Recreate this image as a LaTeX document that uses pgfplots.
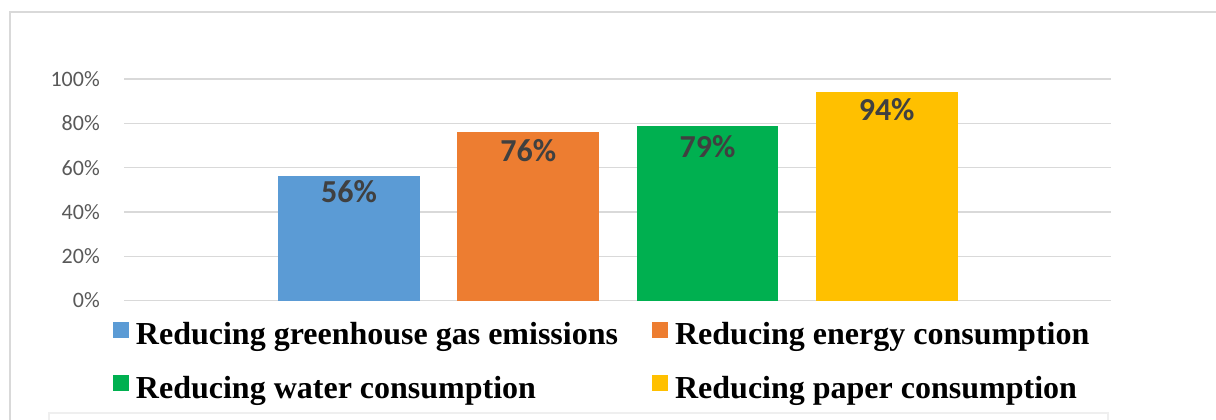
\documentclass[border=0pt]{standalone}
\usepackage{fontspec}
\setmainfont{Carlito}
\newfontfamily\timesfont{Liberation Serif}
\usepackage{pgfplots}
\pgfplotsset{compat=1.18}
\definecolor{cblue}{HTML}{5B9BD5}
\definecolor{corange}{HTML}{ED7D31}
\definecolor{cgreen}{HTML}{00B050}
\definecolor{cyellow}{HTML}{FFC000}
\definecolor{gridc}{HTML}{D9D9D9}
\definecolor{framec}{HTML}{D9D9D9}
\definecolor{faintc}{HTML}{EFEFEF}
\definecolor{ticktext}{HTML}{595959}
\definecolor{labeltext}{HTML}{404040}
\pgfplotsset{sqlegend/.style={legend image code/.code={\fill[##1,draw=none] (0pt,0pt) rectangle (12pt,12pt);}}}
\begin{document}
\begin{tikzpicture}
\useasboundingbox (0,0) rectangle (912pt,314.25pt);
\fill[white] (0,0) rectangle (912pt,314.25pt);
\draw[framec, line width=1pt] (7.5pt,-2pt) -- (7.5pt,305.25pt) -- (914pt,305.25pt);
\draw[faintc, line width=1pt] (36.75pt,-2pt) -- (36.75pt,4.5pt) -- (831pt,4.5pt) -- (831pt,-2pt);
\begin{axis}[
  at={(93pt,88.875pt)}, anchor=south west,
  width=740.25pt, height=166.125pt, scale only axis,
  xmin=-1.256, xmax=4.252, ymin=0, ymax=100,
  axis line style={draw=none},
  xtick=\empty,
  ytick={0,20,40,60,80,100},
  yticklabels={0\%,20\%,40\%,60\%,80\%,100\%},
  major tick length=0pt,
  ymajorgrids,
  grid style={gridc, line width=1pt},
  yticklabel style={font=\fontsize{16.5}{16.5}\selectfont, color=ticktext, inner sep=0pt, xshift=-18pt},
  clip=false,
  bar width=0.792,
  point meta=y,
  nodes near coords={\pgfmathprintnumber[assume math mode=true,fixed,precision=0]{\pgfplotspointmeta}\%},
  nodes near coords align={below},
  every node near coord/.append style={font=\bfseries\fontsize{24}{24}\selectfont, color=labeltext, inner sep=2.5pt},
  legend columns=2,
  legend cell align=left,
  legend style={
    at={(axis description cs:-0.01115,-0.0953)}, anchor=north west,
    draw=none, fill=none, inner sep=0pt, outer sep=0pt,
    row sep=16.3pt,
    font=\timesfont\bfseries\fontsize{24}{24}\selectfont,
    nodes={inner sep=0pt, text height=17pt, text depth=6pt},
    /tikz/every odd column/.append style={column sep=5.25pt},
    /tikz/every even column/.append style={column sep=25.5pt},
  },
]
\addplot[ybar, fill=cblue, draw=none, sqlegend] coordinates {(0,56)};
\addlegendentry{Reducing greenhouse gas emissions}
\addplot[ybar, fill=corange, draw=none, sqlegend, every node near coord/.append style={yshift=-2.8pt}] coordinates {(1,76)};
\addlegendentry{Reducing energy consumption}
\addplot[ybar, fill=cgreen, draw=none, sqlegend, every node near coord/.append style={yshift=-5pt}] coordinates {(2,79)};
\addlegendentry{Reducing water consumption}
\addplot[ybar, fill=cyellow, draw=none, sqlegend, every node near coord/.append style={yshift=-2pt}] coordinates {(3,94)};
\addlegendentry{Reducing paper consumption}
\end{axis}
\end{tikzpicture}
\end{document}
